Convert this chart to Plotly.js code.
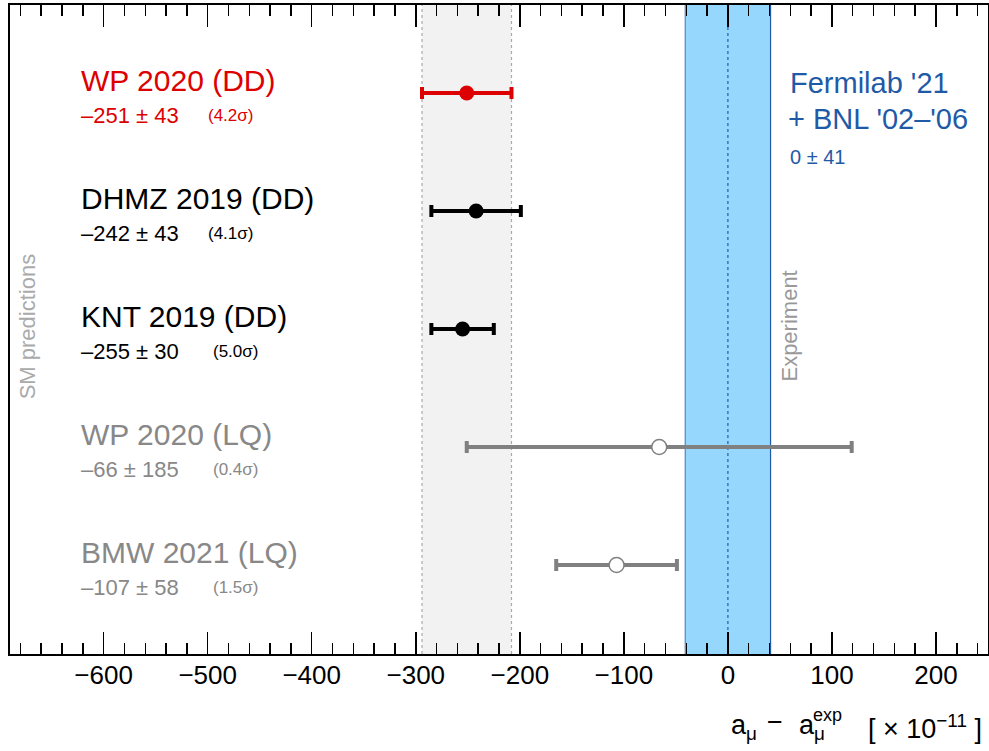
<!DOCTYPE html>
<html>
<head>
<meta charset="utf-8">
<script src="https://cdn.plot.ly/plotly-3.0.1.min.js"></script>
<style>html,body{margin:0;padding:0;background:#fff;}#chart{width:989px;height:751px;}</style>
</head>
<body>
<div id="chart"></div>
<script>
// ---- data ----
const names = ["WP 2020 (DD)", "DHMZ 2019 (DD)", "KNT 2019 (DD)", "WP 2020 (LQ)", "BMW 2021 (LQ)"];
const values = [-251, -242, -255, -66, -107];
const errors = [43, 43, 30, 185, 58];
const sigmas = ["4.2", "4.1", "5.0", "0.4", "1.5"];
const rowY = [5, 4, 3, 2, 1];
const colors = ["#dd0000", "#000000", "#000000", "#808080", "#808080"];
const textColors = ["#dd0000", "#000000", "#000000", "#888888", "#888888"];
const filled = [true, true, true, false, false];
const expValue = 0;
const expError = 41;
const expLabel1 = "Fermilab '21";
const expLabel2 = "+ BNL '02\u2013'06";
const bandIndex = 0; // WP 2020 (DD) band

const FONT = "Liberation Sans, Arial, Helvetica, sans-serif";
const fmt = v => (v < 0 ? "\u2013" + Math.abs(v) : String(v));

const traces = names.map((n, i) => ({
  type: "scatter",
  mode: "markers",
  x: [values[i]],
  y: [rowY[i]],
  name: n,
  showlegend: false,
  error_x: {type: "data", array: [errors[i]], visible: true, color: colors[i], thickness: 4, width: 6},
  marker: {
    size: 15,
    color: filled[i] ? colors[i] : "#ffffff",
    line: {color: colors[i], width: filled[i] ? 0 : 1.5}
  },
  hoverinfo: "x+name"
}));

const annotations = [];
const labelX = -624;
const sigmaX = [-502, -502, -497, -497, -497];
names.forEach((n, i) => {
  annotations.push({x: labelX, y: rowY[i] + 0.11, xref: "x", yref: "y", text: n, showarrow: false,
    xanchor: "left", yanchor: "middle", font: {family: FONT, size: 30, color: textColors[i]}});
  annotations.push({x: labelX, y: rowY[i] - 0.19, xref: "x", yref: "y",
    text: fmt(values[i]) + " \u00b1 " + errors[i], showarrow: false,
    xanchor: "left", yanchor: "middle", font: {family: FONT, size: 22, color: textColors[i]}});
  annotations.push({x: sigmaX[i], y: rowY[i] - 0.19, xref: "x", yref: "y",
    text: "(" + sigmas[i] + "\u03c3)", showarrow: false,
    xanchor: "left", yanchor: "middle", font: {family: FONT, size: 17, color: textColors[i]}});
});
// experiment labels
const blue = "#1f5aa6";
annotations.push({x: 58, y: 5.085, xref: "x", yref: "y", text: expLabel1, showarrow: false, xanchor: "left", yanchor: "middle",
  font: {family: FONT, size: 29, color: blue}});
annotations.push({x: 56, y: 4.78, xref: "x", yref: "y", text: expLabel2, showarrow: false, xanchor: "left", yanchor: "middle",
  font: {family: FONT, size: 29, color: blue}});
annotations.push({x: 58, y: 4.455, xref: "x", yref: "y", text: expValue + " \u00b1 " + expError, showarrow: false, xanchor: "left", yanchor: "middle",
  font: {family: FONT, size: 20, color: blue}});
// rotated labels
annotations.push({x: 0.0175, y: 0.505, xref: "paper", yref: "paper", text: "SM predictions", showarrow: false, textangle: -90,
  xanchor: "center", yanchor: "middle", font: {family: FONT, size: 22, color: "#aaaaaa"}});
annotations.push({x: 59, y: 0.505, xref: "x", yref: "paper", text: "Experiment", showarrow: false, textangle: -90,
  xanchor: "center", yanchor: "middle", font: {family: FONT, size: 22, color: "#999999"}});
// x axis title (pieces)
const TF = {family: FONT, size: 27, color: "#000"};
annotations.push({x: 0.7352, y: -0.112, xref: "paper", yref: "paper", text: "a<sub>\u03bc</sub>", showarrow: false,
  xanchor: "left", yanchor: "middle", font: TF});
annotations.push({x: 0.7822, y: -0.105, xref: "paper", yref: "paper", text: "\u2212", showarrow: false,
  xanchor: "center", yanchor: "middle", font: TF});
annotations.push({x: 0.8047, y: -0.112, xref: "paper", yref: "paper", text: "a<sub>\u03bc</sub>", showarrow: false,
  xanchor: "left", yanchor: "middle", font: TF});
annotations.push({x: 0.8195, y: -0.094, xref: "paper", yref: "paper", text: "exp", showarrow: false,
  xanchor: "left", yanchor: "middle", font: {family: FONT, size: 18, color: "#000"}});
annotations.push({x: 0.9959, y: -0.112, xref: "paper", yref: "paper", text: "[ \u00d7 10<sup>\u221211</sup> ]", showarrow: false,
  xanchor: "right", yanchor: "middle", font: TF});

const bLo = values[bandIndex] - errors[bandIndex];
const bHi = values[bandIndex] + errors[bandIndex];
const shapes = [
  {type: "rect", xref: "x", yref: "paper", x0: bLo, x1: bHi, y0: 0, y1: 1, fillcolor: "#f2f2f2", line: {width: 0}, layer: "below"},
  {type: "line", xref: "x", yref: "paper", x0: bLo, x1: bLo, y0: 0, y1: 1, line: {color: "#aaaaaa", width: 1.2, dash: "dot"}, layer: "below"},
  {type: "line", xref: "x", yref: "paper", x0: bHi, x1: bHi, y0: 0, y1: 1, line: {color: "#aaaaaa", width: 1.2, dash: "dot"}, layer: "below"},
  {type: "rect", xref: "x", yref: "paper", x0: expValue - expError, x1: expValue + expError, y0: 0, y1: 1, fillcolor: "#96d7fe", line: {width: 0}, layer: "below"},
  {type: "line", xref: "x", yref: "paper", x0: expValue - expError, x1: expValue - expError, y0: 0, y1: 1, line: {color: "#4f86c6", width: 1.2}, layer: "below"},
  {type: "line", xref: "x", yref: "paper", x0: expValue + expError, x1: expValue + expError, y0: 0, y1: 1, line: {color: "#1f5aa6", width: 1.2}, layer: "below"},
  {type: "line", xref: "x", yref: "paper", x0: expValue, x1: expValue, y0: 0, y1: 1, line: {color: "#3a72bd", width: 1.5, dash: "dot"}, layer: "below"}
];

const layout = {
  width: 989, height: 751,
  margin: {l: 10, r: 1, t: 5, b: 97},
  paper_bgcolor: "#ffffff", plot_bgcolor: "#ffffff",
  showlegend: false,
  xaxis: {
    range: [-690, 250], tickmode: "array",
    tickvals: [-600, -500, -400, -300, -200, -100, 0, 100, 200],
    ticks: "inside", ticklen: 22, tickwidth: 1.5, tickcolor: "#000",
    minor: {ticks: "inside", ticklen: 11, dtick: 20, tick0: 0, tickwidth: 1.5, tickcolor: "#000", showgrid: false},
    showline: true, linecolor: "#000", linewidth: 2, mirror: "ticks",
    showgrid: false, zeroline: false,
    tickfont: {family: FONT, size: 26, color: "#000"},
    ticklabelstandoff: -3
  },
  yaxis: {
    range: [0.246, 5.746], showticklabels: false, ticks: "",
    showline: true, linecolor: "#000", linewidth: 2, mirror: true,
    showgrid: false, zeroline: false
  },
  shapes: shapes,
  annotations: annotations
};

Plotly.newPlot("chart", traces, layout, {displayModeBar: false, staticPlot: true});
</script>
</body>
</html>
